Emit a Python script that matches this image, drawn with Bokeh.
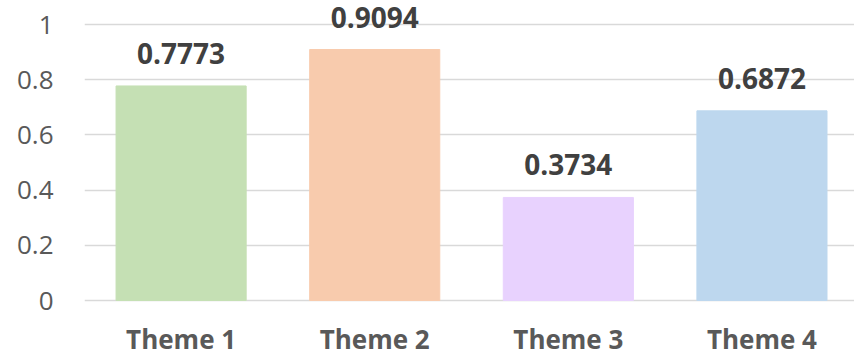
from bokeh.plotting import figure
from bokeh.models import ColumnDataSource, Range1d, FixedTicker, LabelSet
from bokeh.core.properties import value
from bokeh.embed import file_html
from bokeh.resources import INLINE

# Chart data
themes = ["Theme 1", "Theme 2", "Theme 3", "Theme 4"]
scores = [0.7773, 0.9094, 0.3734, 0.6872]
bar_colors = ["#C5E0B4", "#F8CBAD", "#E8D2FE", "#BDD7EE"]
y_ticks = [0, 0.2, 0.4, 0.6, 0.8, 1]

FONT = "Open Sans"

xs = list(range(len(themes)))
source = ColumnDataSource(dict(
    x=xs,
    zero=[0] * len(xs),
    score=scores,
    color=bar_colors,
    label=[f"{v:.4f}" for v in scores],
    theme=themes,
))

# the frame reaches the bottom edge; the space below zero holds the names
p = figure(
    width=854, height=354,
    x_range=Range1d(-0.499, 3.478),
    y_range=Range1d(-54 / 276, 300 / 276),
    output_backend="svg", toolbar_location=None,
    min_border_left=84, min_border_right=0,
    min_border_top=0, min_border_bottom=0,
)
p.outline_line_color = None
p.background_fill_color = "white"
p.border_fill_color = "white"

p.vbar(x="x", top="score", width=0.672, color="color", source=source)

# value labels above the bars
p.add_layout(LabelSet(
    x="x", y="score", text="label", source=source,
    text_align="center", text_baseline="alphabetic", y_offset=22,
    text_font=value(FONT), text_font_style="bold", text_font_size="28px",
    text_color="#404040",
))

# category names under the baseline
p.add_layout(LabelSet(
    x="x", y="zero", text="theme", source=source,
    text_align="center", text_baseline="alphabetic", y_offset=-48,
    text_font=value(FONT), text_font_style="bold", text_font_size="26px",
    text_color="#595959",
))

# y axis: plain labels, no line or ticks
p.yaxis.ticker = FixedTicker(ticks=y_ticks)
p.yaxis.major_label_overrides = {0: "0", 1: "1"}
p.yaxis.axis_line_color = None
p.yaxis.major_tick_line_color = None
p.yaxis.minor_tick_line_color = None
p.yaxis.major_tick_out = 0
p.yaxis.major_tick_in = 0
p.yaxis.major_label_text_font = FONT
p.yaxis.major_label_text_font_size = "26px"
p.yaxis.major_label_text_color = "#595959"
p.yaxis.major_label_standoff = 31

p.xaxis.visible = False

p.xgrid.grid_line_color = None
p.ygrid.ticker = FixedTicker(ticks=y_ticks)
p.ygrid.grid_line_color = "#D9D9D9"
p.ygrid.grid_line_width = 1.5
p.ygrid.level = "underlay"

open("out.html", "w").write(file_html(p, INLINE))
